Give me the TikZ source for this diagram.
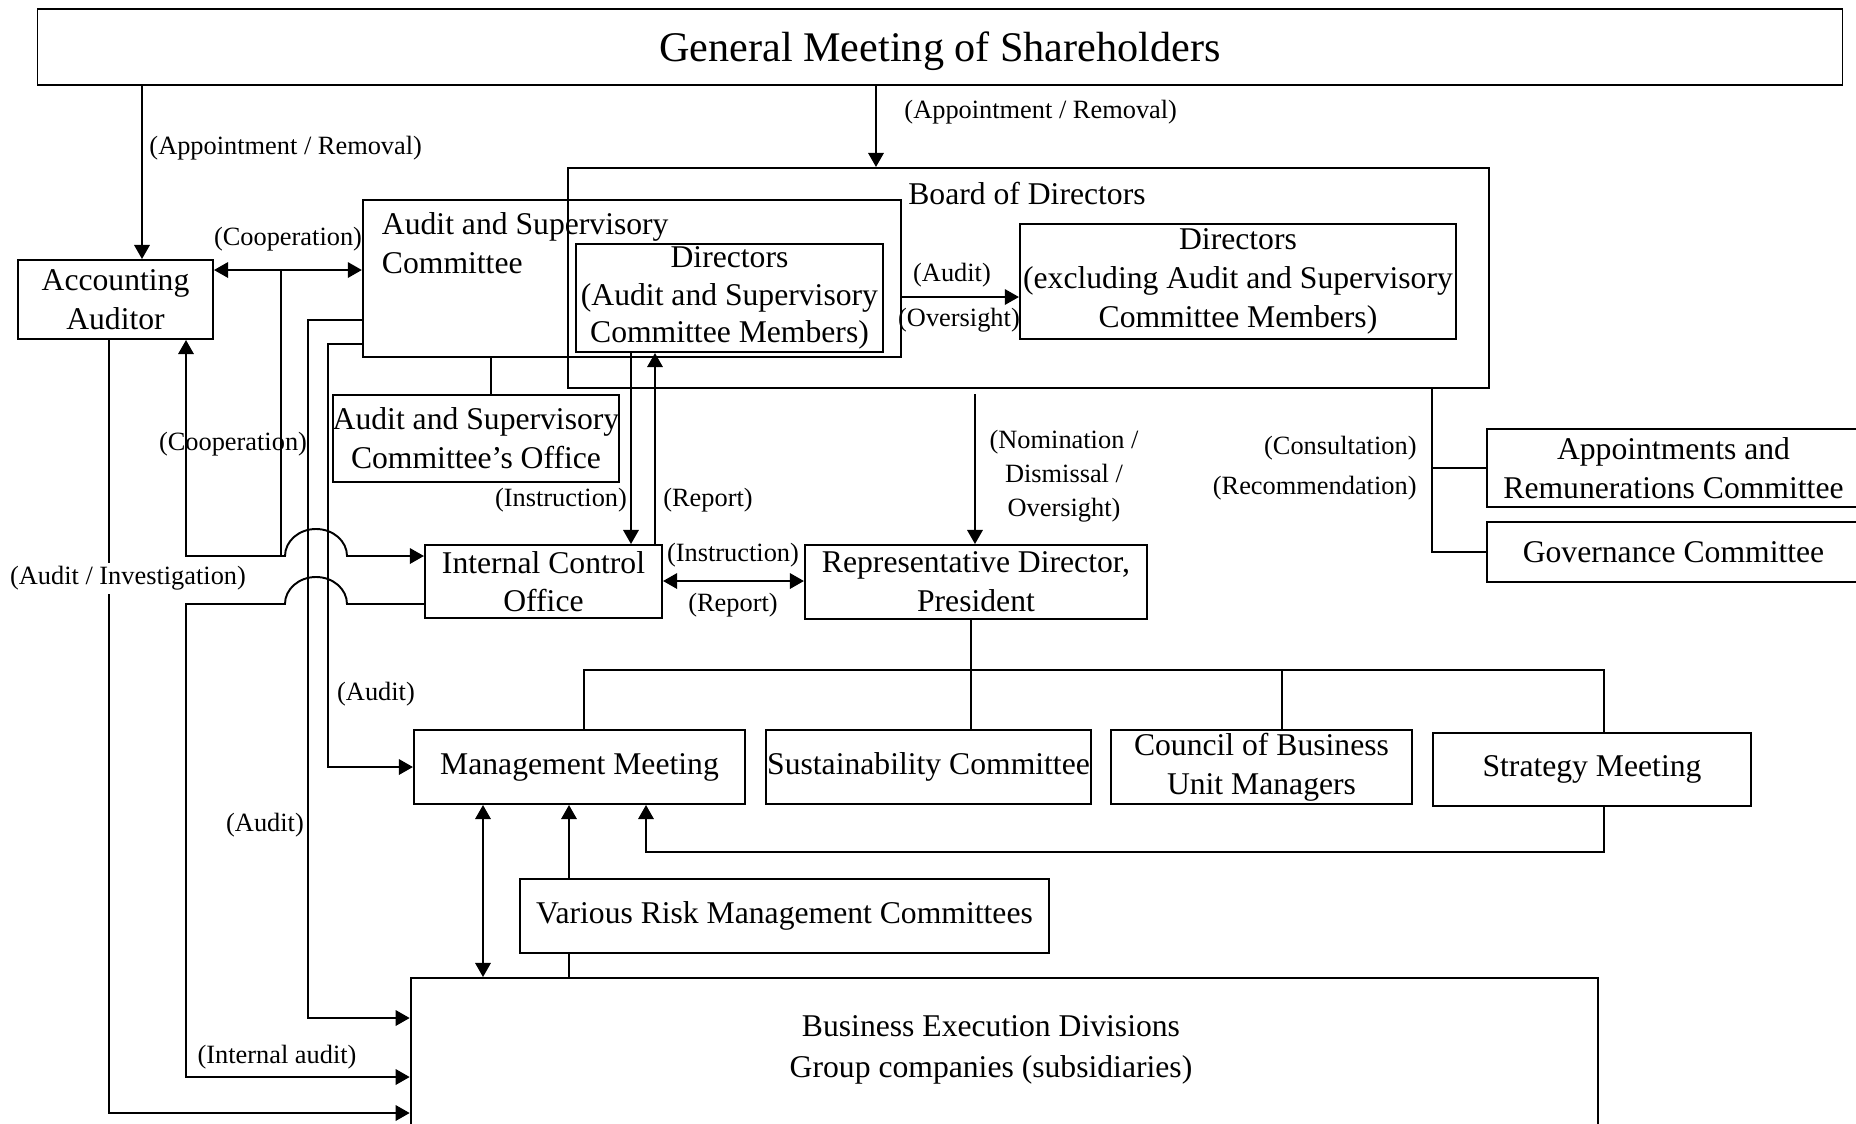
\documentclass[tikz,border=0pt]{standalone}
\usepackage{fontspec}
\setmainfont{Liberation Serif}
\usetikzlibrary{arrows.meta,positioning}

\begin{document}
\begin{tikzpicture}[x=0.01cm,y=-0.01cm,>={Triangle[length=4pt,width=4.4pt]},line width=0.55pt]
\tikzstyle{box}=[rectangle,draw=black,align=center,inner sep=0pt,font=\fontsize{9}{11}\selectfont]
\tikzstyle{txt}=[inner sep=0pt,align=center,font=\fontsize{9}{11}\selectfont]
\tikzstyle{lbl}=[inner sep=1pt,align=center,font=\fontsize{7.5}{9.3}\selectfont]
\useasboundingbox (0,0) rectangle (1856,1123);
\node[box,minimum width=18.04cm,minimum height=0.76cm,text depth=0pt,font=\fontsize{12}{14}\selectfont] (gm) at (940,47) {General Meeting of Shareholders};
\node[box,minimum width=9.21cm,minimum height=2.2cm] (board) at (1028.5,278) {};
\node[txt] (boardt) at (1027,193) {Board of Directors};
\node[box,minimum width=5.38cm,minimum height=1.57cm] (asc) at (632,278.5) {};
\node[txt,anchor=west,align=left] (asct) at (381,243) {Audit and Supervisory\\Committee};
\node[box,minimum width=3.07cm,minimum height=1.08cm,font=\fontsize{9}{10.6}\selectfont] (dasc) at (729.5,298) {Directors\\(Audit and Supervisory\\Committee Members)};
\node[box,minimum width=4.36cm,minimum height=1.15cm] (dex) at (1238,281.5) {Directors\\(excluding Audit and Supervisory\\Committee Members)};
\node[box,minimum width=1.95cm,minimum height=0.79cm] (aa) at (115.5,299.5) {Accounting\\Auditor};
\node[box,minimum width=2.84cm,minimum height=0.87cm] (off) at (476,438.5) {Audit and Supervisory\\Committee's Office};
\node[box,minimum width=2.37cm,minimum height=0.73cm] (ico) at (543.5,581.5) {Internal Control\\Office};
\node[box,minimum width=3.42cm,minimum height=0.74cm] (rd) at (976,582) {Representative Director,\\President};
\node[box,minimum width=3.73cm,minimum height=0.78cm] (arc) at (1673.5,468) {Appointments and\\Remunerations Committee};
\node[box,minimum width=3.73cm,minimum height=0.6cm] (gov) at (1673.5,552) {Governance Committee};
\node[box,minimum width=3.31cm,minimum height=0.74cm] (mm) at (579.5,767) {Management Meeting};
\node[box,minimum width=3.25cm,minimum height=0.74cm] (sc) at (928.5,767) {Sustainability Committee};
\node[box,minimum width=3.01cm,minimum height=0.74cm] (cbu) at (1261.5,767) {Council of Business\\Unit Managers};
\node[box,minimum width=3.18cm,minimum height=0.73cm] (sm) at (1592,769.5) {Strategy Meeting};
\node[box,minimum width=5.29cm,minimum height=0.74cm] (vrmc) at (784.5,916) {Various Risk Management Committees};
\node[box,minimum width=11.87cm,minimum height=1.52cm] (bed) at (1004.5,1054) {};
\node[txt,font=\fontsize{9}{11.6}\selectfont] (bedt) at (991,1050) {Business Execution Divisions\\Group companies (subsidiaries)};

\draw[->] (gm.south -| 142,0) -- (aa.north -| 142,0);
\node[lbl,anchor=west] (l1) at (145,148) {(Appointment / Removal)};
\draw[->] (gm.south -| 876,0) -- (board.north -| 876,0);
\node[lbl,anchor=west] (l2) at (900,112) {(Appointment / Removal)};
\draw[<->] (aa.east |- 0,270) -- (asc.west |- 0,270);
\node[lbl] (l3) at (288,239) {(Cooperation)};
\draw (281,270) -- (281,556);
\draw[<->] (aa.south -| 186,0) -- (186,556) -- (285,556) arc[start angle=180,end angle=0,x radius=0.31cm,y radius=0.27cm] -- (ico.west |- 0,556);
\node[lbl] (l4) at (233,444) {(Cooperation)};
\draw[->] (ico.west |- 0,604) -- (347,604) arc[start angle=0,end angle=180,x radius=0.31cm,y radius=0.27cm] -- (186,604) -- (186,1077) -- (bed.west |- 0,1077);
\node[lbl] (l5) at (277,1057) {(Internal audit)};
\draw[->] (asc.west |- 0,320) -- (308,320) -- (308,1018) -- (bed.west |- 0,1018);
\node[lbl] (l6) at (265,825) {(Audit)};
\draw[->] (asc.west |- 0,344) -- (328,344) -- (328,767) -- (mm.west);
\node[lbl] (l7) at (376,694) {(Audit)};
\draw[->] (aa.south -| 109,0) -- (109,1113) -- (bed.west |- 0,1113);
\node[lbl,fill=white] (l8) at (128,578) {(Audit / Investigation)};
\draw (asc.south -| 491,0) -- (off.north -| 491,0);
\draw[->] (dasc.south -| 631,0) -- (ico.north -| 631,0);
\draw[->] (ico.north -| 655,0) -- (dasc.south -| 655,0);
\node[lbl] (l9) at (561,500) {(Instruction)};
\node[lbl] (l10) at (708,500) {(Report)};
\draw[->] (asc.east |- 0,297) -- (dex.west |- 0,297);
\node[lbl] (l11) at (952,275) {(Audit)};
\node[lbl] (l12) at (959,320) {(Oversight)};
\draw[<->] (ico.east |- 0,581) -- (rd.west |- 0,581);
\node[lbl] (l13) at (733,555) {(Instruction)};
\node[lbl] (l14) at (733,605) {(Report)};
\draw[->,shorten <=0.05cm] (board.south -| 975,0) -- (rd.north -| 975,0);
\node[lbl,font=\fontsize{7.5}{9.6}\selectfont] (l15) at (1064,476) {(Nomination /\\Dismissal /\\Oversight)};
\draw (board.south -| 1432,0) -- (1432,552) -- (gov.west);
\draw (1432,468) -- (arc.west);
\node[lbl,anchor=east] (l16) at (1421,448) {(Consultation)};
\node[lbl,anchor=east] (l17) at (1421,488) {(Recommendation)};
\draw (rd.south -| 971,0) -- (sc.north -| 971,0);
\draw (mm.north -| 584,0) -- (584,670) -- (1604,670) -- (sm.north -| 1604,0);
\draw (1282,670) -- (cbu.north -| 1282,0);
\draw[->] (sm.south -| 1604,0) -- (1604,852) -- (646,852) -- (mm.south -| 646,0);
\draw[->] (vrmc.north -| 569,0) -- (mm.south -| 569,0);
\draw (vrmc.south -| 569,0) -- (bed.north -| 569,0);
\draw[<->] (mm.south -| 483,0) -- (bed.north -| 483,0);
\end{tikzpicture}
\end{document}
